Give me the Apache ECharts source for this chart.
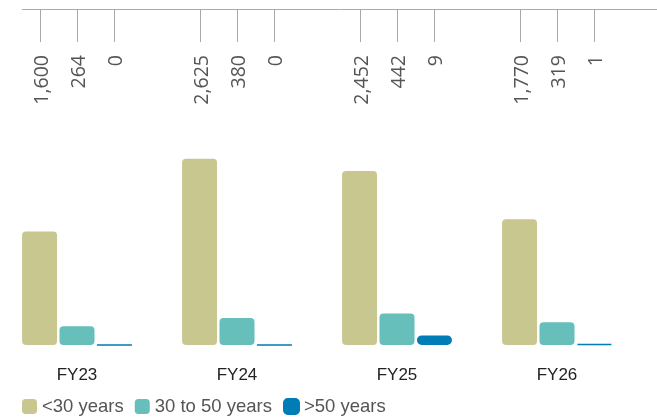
<!DOCTYPE html>
<html>
<head>
<meta charset="utf-8">
<style>
  html, body { margin: 0; padding: 0; background: #fff; }
  #chart { width: 657px; height: 418px; }
</style>
<script src="https://cdn.jsdelivr.net/npm/echarts@6/dist/echarts.min.js"></script>
</head>
<body>
<div id="chart"></div>
<script>
// Headcount by age band, per fiscal year
const categories = ['FY23', 'FY24', 'FY25', 'FY26'];
const seriesNames = ['<30 years', '30 to 50 years', '>50 years'];
const under30 = [1600, 2625, 2452, 1770];
const from30to50 = [264, 380, 442, 319];
const over50 = [0, 0, 9, 1];

const colors = ['#c8c78f', '#66bfbb', '#007cb6'];
const BAR_W = 35;
const BAR_GAP = 0.07;   // fraction of bar width between neighbouring bars

const allSeries = [under30, from30to50, over50];

// value callouts above the plot: [category index, series index, value]
const callouts = [];
categories.forEach((c, i) => {
  allSeries.forEach((vals, k) => callouts.push([i, k, vals[i]]));
});

const fmt = v => v.toLocaleString('en-US');

const chart = echarts.init(document.getElementById('chart'));

chart.setOption({
  animation: false,
  color: colors,
  grid: {
    left: -3, right: 20, top: 132, bottom: 73,
    containLabel: false,
    outerBoundsMode: 'none'
  },
  legend: {
    data: seriesNames,
    left: 17,
    top: 392,
    icon: 'roundRect',
    itemWidth: 15,
    itemHeight: 15,
    itemGap: 11,
    textStyle: { fontFamily: 'Liberation Sans', fontSize: 18.5, color: '#555' }
  },
  xAxis: {
    type: 'category',
    data: categories,
    axisLine: { show: false },
    axisTick: { show: false },
    axisLabel: { margin: 22, fontFamily: 'Liberation Sans', fontSize: 17, color: '#222' }
  },
  yAxis: [
    { type: 'value', min: 0, max: 3000, show: false },
    // the oldest band is small, so it is read against its own finer scale
    { type: 'value', min: 0, max: 200, show: false }
  ],
  graphic: [{
    type: 'line',
    shape: { x1: 22, y1: 9.5, x2: 657, y2: 9.5 },
    style: { stroke: '#aaa', lineWidth: 1 },
    silent: true
  }],
  series: [
    {
      name: seriesNames[0], type: 'bar', data: under30,
      barWidth: BAR_W, barGap: (BAR_GAP * 100) + '%',
      itemStyle: { borderRadius: 4 }
    },
    {
      name: seriesNames[1], type: 'bar', data: from30to50,
      barWidth: BAR_W, barGap: (BAR_GAP * 100) + '%',
      itemStyle: { borderRadius: 4 }
    },
    {
      name: seriesNames[2], type: 'bar', data: over50, yAxisIndex: 1,
      barWidth: BAR_W, barGap: (BAR_GAP * 100) + '%',
      itemStyle: { borderRadius: 4, borderColor: colors[2], borderWidth: 1.5 }
    },
    {
      type: 'custom',
      data: callouts,
      clip: false,
      silent: true,
      renderItem: function (params, api) {
        const cat = api.value(0), k = api.value(1), val = api.value(2);
        const cx = api.coord([cat, 0])[0];
        const gap = BAR_W * BAR_GAP;
        const total = 3 * BAR_W + 2 * gap;
        const x = Math.round(cx - total / 2 + BAR_W / 2 + k * (BAR_W + gap)) + 0.5;
        return {
          type: 'group',
          children: [
            {
              type: 'line',
              shape: { x1: x, y1: 9.5, x2: x, y2: 42 },
              style: { stroke: '#aaa', lineWidth: 1 }
            },
            {
              type: 'text',
              x: x + 1.5, y: 55,
              rotation: Math.PI / 2,
              style: {
                text: fmt(val),
                align: 'right',
                verticalAlign: 'middle',
                fontFamily: 'Open Sans',
                fontSize: 19.5,
                fill: '#555'
              }
            }
          ]
        };
      }
    }
  ]
});
</script>
</body>
</html>
